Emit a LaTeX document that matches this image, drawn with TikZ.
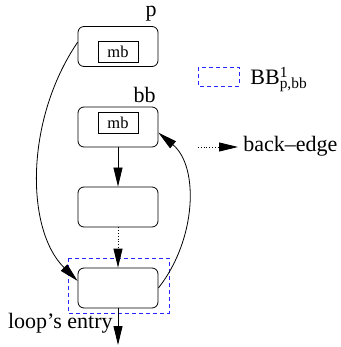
\documentclass[tikz,border=0pt]{standalone}
\usepackage{fontspec}
\setmainfont{Liberation Serif}
\usepackage{tikz}
\usetikzlibrary{arrows.meta}

\begin{document}
\begin{tikzpicture}[x=1pt, y=-1pt, line width=0.8pt,
    font=\fontsize{22}{26}\selectfont,
    blk/.style={draw, rounded corners=6pt, minimum width=80pt, minimum height=40pt},
    mbbox/.style={draw, minimum width=40pt, minimum height=21pt, inner sep=0pt, font=\rmfamily\fontsize{16.5}{20}\selectfont},
    txt/.style={inner sep=0pt},
    bbline/.style={draw=blue!85!white, dash pattern=on 4pt off 3pt},
    tip/.style={-{Triangle[length=19pt, width=9pt]}}]
\useasboundingbox (0, 0) rectangle (340, 347);
\node[blk] (p) at (118, 46.5) {};
\node[mbbox] (mbp) at (118, 51.5) {mb};
\node[blk] (bb) at (118, 127) {};
\node[mbbox] (mbbb) at (118, 122.5) {mb};
\node[blk] (mid) at (118, 207) {};
\node[blk] (entry) at (118, 288) {};
\node[txt, anchor=base east] (plabel) at (157, 17) {p};
\node[txt, anchor=base east] (bblabel) at (156, 103) {bb};
\node[txt, anchor=base east] (looplabel) at (113, 328) {loop's entry};
\coordinate (out) at (118, 345);
\draw[bbline] (68, 258) rectangle (169, 313);
\draw[tip] (bb) -- (mid);
\draw[tip, dotted] (mid) -- (entry);
\draw[tip] (entry) -- (out);
\draw[tip] (p.174) .. controls +(-53, 78) and +(-52, -51) .. (entry.170);
\draw[tip] (entry.east) .. controls +(38, -48) and +(41, 34) .. (bb.-8);
% legend
\draw[bbline] (198, 67) rectangle (239, 86);
\node[txt, anchor=base west] (bbleg) at (250, 85) {BB\rlap{\textsuperscript{1}}\textsubscript{p,bb}};
\coordinate (legs) at (198, 147);
\coordinate (lege) at (238, 147);
\draw[tip, dotted] (legs) -- (lege);
\node[txt, anchor=base west] (backleg) at (243, 152) {back–edge};
\end{tikzpicture}
\end{document}
